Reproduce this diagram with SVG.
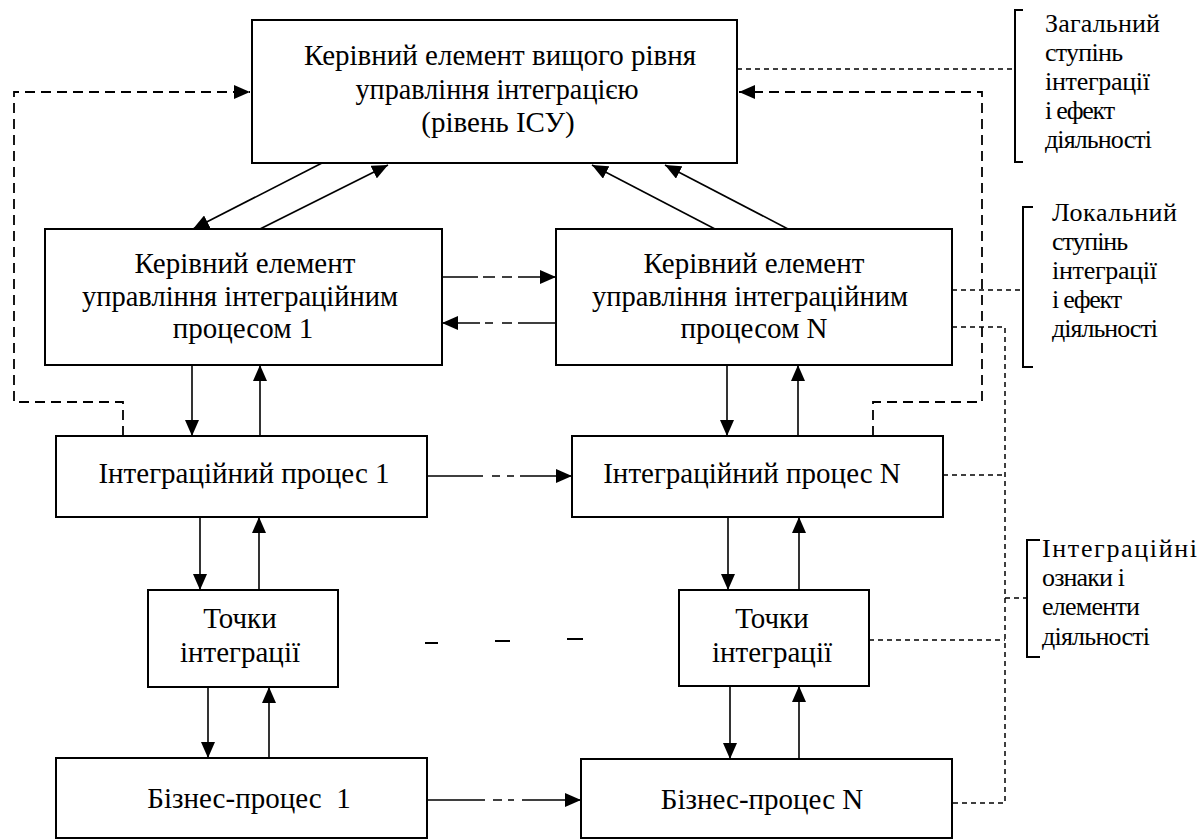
<svg xmlns="http://www.w3.org/2000/svg" width="1202" height="839" viewBox="0 0 1202 839">
  <style>
    .box { fill: #fff; stroke: #000; stroke-width: 2; }
    .lbl { font-family: "Liberation Serif", "Times New Roman", serif; font-size: 29px; fill: #000; text-anchor: middle; }
    .note { font-family: "Liberation Serif", "Times New Roman", serif; font-size: 26px; fill: #000; }
    .arr { fill: none; stroke: #000; stroke-width: 1.6; marker-end: url(#head); }
    .dd { fill: none; stroke: #000; stroke-width: 1.6; }
    .long { fill: none; stroke: #000; stroke-width: 1.8; stroke-dasharray: 10 6; }
    .fine { fill: none; stroke: #000; stroke-width: 1.5; stroke-dasharray: 5 4; }
    .brk { fill: none; stroke: #000; stroke-width: 2; }
  </style>
  <defs>
    <marker id="head" markerUnits="userSpaceOnUse" markerWidth="16" markerHeight="14" viewBox="0 0 16 14" refX="16" refY="7" orient="auto">
      <path d="M0,0 L16,7 L0,14 z" fill="#000"/>
    </marker>
  </defs>
  <rect width="1202" height="839" fill="#fff"/>

  <g id="connectors">
    <!-- top level to process managers -->
    <line class="arr" x1="322" y1="163" x2="193" y2="229"/>
    <line class="arr" x1="260" y1="229" x2="388" y2="165"/>
    <line class="arr" x1="715" y1="229" x2="592" y2="165"/>
    <line class="arr" x1="788" y1="229" x2="665" y2="165"/>

    <!-- between process managers -->
    <line class="dd" x1="442" y1="277" x2="556" y2="277" stroke-dasharray="36 5 12 7 10 6 200" marker-end="url(#head)"/>
    <line class="dd" x1="556" y1="323" x2="442" y2="323" stroke-dasharray="38 6 10 9 8 5 200" marker-end="url(#head)"/>

    <!-- managers to integration processes -->
    <line class="arr" x1="192" y1="365" x2="192" y2="436"/>
    <line class="arr" x1="260" y1="436" x2="260" y2="365"/>
    <line class="arr" x1="727" y1="365" x2="727" y2="436"/>
    <line class="arr" x1="798" y1="436" x2="798" y2="365"/>

    <!-- integration process 1 to N -->
    <line class="dd" x1="427" y1="476" x2="572" y2="476" stroke-dasharray="56 9 8 7 7 6 200" marker-end="url(#head)"/>

    <!-- processes to integration points -->
    <line class="arr" x1="200" y1="517" x2="200" y2="590"/>
    <line class="arr" x1="259" y1="590" x2="259" y2="517"/>
    <line class="arr" x1="728" y1="517" x2="728" y2="590"/>
    <line class="arr" x1="799" y1="590" x2="799" y2="517"/>

    <!-- integration points to business processes -->
    <line class="arr" x1="208" y1="687" x2="208" y2="758"/>
    <line class="arr" x1="269" y1="758" x2="269" y2="687"/>
    <line class="arr" x1="730" y1="686" x2="730" y2="759"/>
    <line class="arr" x1="799" y1="759" x2="799" y2="686"/>

    <!-- business process 1 to N -->
    <line class="dd" x1="427" y1="800" x2="581" y2="800" stroke-dasharray="58 8 9 6 6 8 200" marker-end="url(#head)"/>

    <!-- gap between the two columns -->
    <g stroke="#000" stroke-width="2">
      <line x1="425" y1="643" x2="438" y2="643"/>
      <line x1="495" y1="641" x2="510" y2="641"/>
      <line x1="567" y1="639" x2="583" y2="639"/>
    </g>

    <!-- feedback loops to the top level -->
    <path class="long" d="M123,436 V402 H14 V92 H250" marker-end="url(#head)"/>
    <path class="long" d="M873,436 V402 H982 V92 H739" marker-end="url(#head)"/>

    <!-- links to the notes -->
    <path class="fine" d="M737,69 H1015"/>
    <path class="fine" d="M952,290 H1023"/>
    <path class="fine" d="M952,327 H1005 V803 H953"/>
    <path class="fine" d="M943,475 H1005"/>
    <path class="fine" d="M869,640 H1005"/>
    <path class="fine" d="M1005,598 H1027"/>
  </g>

  <g id="top-manager">
    <rect class="box" x="252" y="20" width="485" height="143"/>
    <text class="lbl" x="500" y="65">Керівний елемент вищого рівня</text>
    <text class="lbl" x="497" y="99" textLength="283" lengthAdjust="spacingAndGlyphs">управління інтеграцією</text>
    <text class="lbl" x="498" y="132">(рівень ІСУ)</text>
  </g>

  <g id="manager-1">
    <rect class="box" x="45" y="229" width="397" height="136"/>
    <text class="lbl" x="245" y="273">Керівний елемент</text>
    <text class="lbl" x="240" y="306" textLength="316" lengthAdjust="spacingAndGlyphs">управління інтеграційним</text>
    <text class="lbl" x="243" y="338">процесом 1</text>
  </g>

  <g id="manager-n">
    <rect class="box" x="556" y="229" width="396" height="136"/>
    <text class="lbl" x="754" y="273">Керівний елемент</text>
    <text class="lbl" x="750" y="306" textLength="316" lengthAdjust="spacingAndGlyphs">управління інтеграційним</text>
    <text class="lbl" x="754" y="338">процесом N</text>
  </g>

  <g id="process-1">
    <rect class="box" x="56" y="436" width="371" height="81"/>
    <text class="lbl" x="244" y="483">Інтеграційний процес 1</text>
  </g>

  <g id="process-n">
    <rect class="box" x="572" y="436" width="371" height="81"/>
    <text class="lbl" x="752" y="483">Інтеграційний процес N</text>
  </g>

  <g id="points-1">
    <rect class="box" x="148" y="590" width="190" height="97"/>
    <text class="lbl" x="240" y="628">Точки</text>
    <text class="lbl" x="240" y="662">інтеграції</text>
  </g>

  <g id="points-n">
    <rect class="box" x="679" y="590" width="190" height="96"/>
    <text class="lbl" x="772" y="628">Точки</text>
    <text class="lbl" x="772" y="662">інтеграції</text>
  </g>

  <g id="business-1">
    <rect class="box" x="56" y="758" width="371" height="80"/>
    <text class="lbl" x="249" y="808" xml:space="preserve">Бізнес-процес  1</text>
  </g>

  <g id="business-n">
    <rect class="box" x="581" y="759" width="371" height="79"/>
    <text class="lbl" x="762" y="809">Бізнес-процес N</text>
  </g>

  <g id="note-general">
    <path class="brk" d="M1023,10 H1015 V162 H1023"/>
    <text class="note" x="1045" y="32" textLength="115" lengthAdjust="spacing">Загальний</text>
    <text class="note" x="1045" y="61" textLength="78" lengthAdjust="spacing">ступінь</text>
    <text class="note" x="1045" y="90" textLength="105" lengthAdjust="spacing">інтеграції</text>
    <text class="note" x="1045" y="119" textLength="70" lengthAdjust="spacing">і ефект</text>
    <text class="note" x="1045" y="148" textLength="107" lengthAdjust="spacing">діяльності</text>
  </g>

  <g id="note-local">
    <path class="brk" d="M1033,207 H1023 V367 H1033"/>
    <text class="note" x="1052" y="221" textLength="125" lengthAdjust="spacing">Локальний</text>
    <text class="note" x="1052" y="250" textLength="76" lengthAdjust="spacing">ступінь</text>
    <text class="note" x="1052" y="279" textLength="105" lengthAdjust="spacing">інтеграції</text>
    <text class="note" x="1052" y="308" textLength="70" lengthAdjust="spacing">і ефект</text>
    <text class="note" x="1052" y="337" textLength="106" lengthAdjust="spacing">діяльності</text>
  </g>

  <g id="note-features">
    <path class="brk" d="M1040,540 H1027 V657 H1040"/>
    <text class="note" x="1042" y="557" textLength="155" lengthAdjust="spacing">Інтеграційні</text>
    <text class="note" x="1042" y="586" textLength="83" lengthAdjust="spacing">ознаки і</text>
    <text class="note" x="1042" y="615" textLength="98" lengthAdjust="spacing">елементи</text>
    <text class="note" x="1042" y="645" textLength="108" lengthAdjust="spacing">діяльності</text>
  </g>
</svg>
